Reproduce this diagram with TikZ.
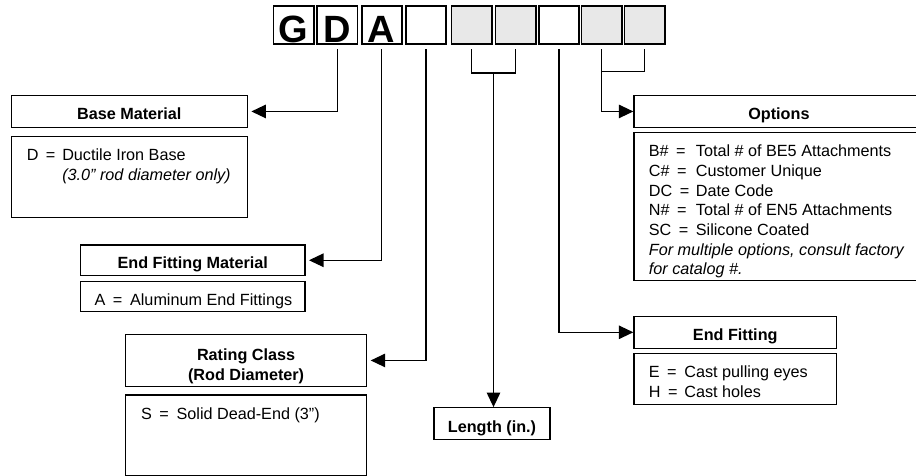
\documentclass[tikz,border=0pt]{standalone}
\usepackage{fontspec}
\setmainfont{Liberation Sans}
\usetikzlibrary{arrows.meta, positioning, calc}

\colorlet{cellgray}{black!9}
\newcommand{\codeentry}[3][35.5pt]{\makebox[#1][l]{#2\hspace{7.5pt}=}#3}

\begin{document}
\begin{tikzpicture}[
    x=1pt, y=-1pt,
    >={Triangle[length=14.5pt, width=13.5pt]},
    line width=1.2pt,
    cell/.style={draw, line width=1.8pt, minimum width=40.2pt, minimum height=38.5pt, inner sep=0pt, font=\fontsize{38}{38}\selectfont\bfseries, text height=35.6pt, text depth=0pt},
    head/.style={draw, inner sep=0pt, align=center, font=\fontsize{16.2}{19.7}\selectfont\bfseries, text height=17pt, text depth=0pt},
    panel/.style={draw, inner sep=0pt},
    entry/.style={inner sep=0pt, align=left, font=\fontsize{16.2}{19.7}\selectfont}
]
\clip (0,0) rectangle (916,476);

% Catalog number cells
\foreach \cx/\letter/\shade [count=\i] in {293.5/G/white, 337.3/D/white, 381.7/A/white, 426/{}/white, 471.5/{}/cellgray, 515.5/{}/cellgray, 559/{}/white, 601.5/{}/cellgray, 644.5/{}/cellgray}
    \node[cell, fill=\shade] (cell\i) at (\cx,24.9) {\letter};

% Base material
\node[head, anchor=north west, minimum width=236pt, minimum height=31.7pt] (basetitle) at (10.7,95) {Base Material};
\node[panel, below=7.8pt of basetitle, minimum width=236pt, minimum height=81pt] (basebody) {};
\node[entry, below right=12.6pt and 15.5pt of basebody.north west] (baseentry) {\codeentry{D}{Ductile Iron Base}\\ \hspace*{35.5pt}\textit{(3.0” rod diameter only)}};

% End fitting material
\node[head, anchor=north west, minimum width=224.3pt, minimum height=30.7pt] (efmtitle) at (80,244.3) {End Fitting Material};
\node[panel, below=4.5pt of efmtitle, minimum width=224.3pt, minimum height=30.3pt] (efmbody) {};
\node[entry, below right=12.6pt and 14pt of efmbody.north west] (efmentry) {\codeentry{A}{Aluminum End Fittings}};

% Rating class
\node[head, anchor=north west, minimum width=241pt, minimum height=51.7pt, text height=39.9pt] (ratingtitle) at (125,334) {Rating Class\\(Rod Diameter)};
\node[panel, below=7.4pt of ratingtitle, minimum width=241pt, minimum height=80.5pt] (ratingbody) {};
\node[entry, below right=12.6pt and 15.5pt of ratingbody.north west] (ratingentry) {\codeentry{S}{Solid Dead-End (3”)}};

% Length
\node[head, minimum width=116pt, minimum height=31.6pt] (length) at (492,423.5) {Length (in.)};

% End fitting
\node[head, anchor=north west, minimum width=202.7pt, minimum height=32pt] (endtitle) at (633.3,315.7) {End Fitting};
\node[panel, below=3.6pt of endtitle, minimum width=202.7pt, minimum height=51pt] (endbody) {};
\node[entry, below right=12.6pt and 15pt of endbody.north west] (endentry) {\codeentry{E}{Cast pulling eyes}\\ \codeentry{H}{Cast holes}};

% Options
\node[head, anchor=north west, minimum width=290pt, minimum height=31.7pt] (opttitle) at (633.3,95) {Options};
\node[panel, below=3.8pt of opttitle, minimum width=290pt, minimum height=148.3pt] (optbody) {};
\node[entry, below right=12.6pt and 15pt of optbody.north west] (optentry) {\codeentry[47pt]{B\#}{Total \# of BE5 Attachments}\\
    \codeentry[47pt]{C\#}{Customer Unique}\\
    \codeentry[47pt]{DC}{Date Code}\\
    \codeentry[47pt]{N\#}{Total \# of EN5 Attachments}\\
    \codeentry[47pt]{SC}{Silicone Coated}\\
    \textit{For multiple options, consult factory}\\
    \textit{for catalog \#.}};

% Brackets
\coordinate (lenjoin) at ($(cell5.south)!.5!(cell6.south)+(0,28)$);
\coordinate (optjoin) at ($(cell8.south)+(0,26.7)$);

% Connections
\draw[->, shorten >=3.5pt] ([yshift=-4pt]cell2.south) |- (basetitle.east);
\draw[->, shorten >=3.5pt] ([yshift=-4pt]cell3.south) |- (efmtitle.east);
\draw[->, shorten >=3.5pt] ([yshift=-4pt]cell4.south) |- (ratingtitle.east);
\draw ([yshift=-4pt]cell5.south) |- (lenjoin) -| ([yshift=-4pt]cell6.south);
\draw[->] (lenjoin) -- (lenjoin |- length.north);
\draw[->] ([yshift=-4pt]cell7.south) |- (endtitle.west);
\draw ([yshift=-4pt]cell9.south) |- (optjoin);
\draw[->] ([yshift=-4pt]cell8.south) |- (opttitle.west);

\end{tikzpicture}
\end{document}
